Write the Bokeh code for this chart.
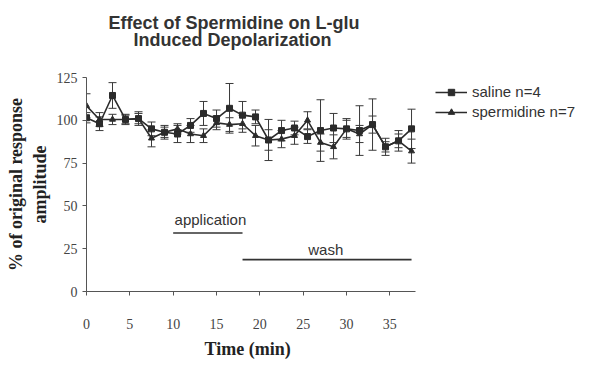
from bokeh.plotting import figure
from bokeh.models import (Range1d, ColumnDataSource, Whisker, TeeHead, Label,
                          Legend, LegendItem, FixedTicker, Title)
from bokeh.embed import file_html
from bokeh.resources import INLINE

# ---- data ----
time_min = [0, 1.5, 3, 4.5, 6, 7.5, 9, 10.5, 12, 13.5, 15, 16.5, 18,
            19.5, 21, 22.5, 24, 25.5, 27, 28.5, 30, 31.5, 33, 34.5, 36, 37.5]
saline = [101.5, 98, 114.5, 100.5, 101, 95, 93, 92, 97, 104, 101, 107, 103,
          102, 88.5, 94, 95.5, 90.5, 94, 95.5, 95, 94, 97.5, 84.5, 88, 95]
saline_err = [3, 4, 7.5, 2.5, 3, 4, 3, 5, 4, 7, 5, 14.5, 8,
              4, 12, 6, 4, 4, 18, 8.5, 5, 14.5, 15, 3, 6, 11.5]
spermidine = [108.5, 100.5, 100.5, 100.5, 101, 89.5, 93, 95, 92, 91, 98.5, 97.5, 98,
              91, 88.5, 89, 91, 100, 87, 84.5, 95, 92, 97.5, 84.5, 88, 82]
spermidine_err = [7, 4, 3, 3, 4, 5, 4, 3, 5, 4, 4, 4, 5,
                  6, 6, 5, 5, 5, 5, 7, 6, 5, 5, 5, 4, 7]
series_names = ["saline n=4", "spermidine n=7"]
x_ticks = [0, 5, 10, 15, 20, 25, 30, 35]
y_ticks = [0, 25, 50, 75, 100, 125]
title_lines = ["Effect of Spermidine on L-glu", "Induced Depolarization"]
x_title = "Time (min)"
y_title = "% of original response\namplitude"
phase_names = ["application", "wash"]
phase_start = [10, 18]
phase_end = [18, 37.5]

INK = "#2b2b2b"

# frame reaches the right edge so the legend can sit inside it;
# the x axis line is bounded to the data extent.
p = figure(width=600, height=366, output_backend="svg", toolbar_location=None,
           x_range=Range1d(0, 59.3), y_range=Range1d(0, 125),
           min_border_left=86, min_border_right=0, min_border_top=77,
           min_border_bottom=75)
p.outline_line_color = None
p.xgrid.visible = False
p.ygrid.visible = False
p.background_fill_color = "white"
p.title.text = ""

for ax in (p.xaxis[0], p.yaxis[0]):
    ax.axis_line_color = "#555555"
    ax.major_tick_line_color = "#555555"
    ax.minor_tick_line_color = None
    ax.major_tick_in = 0
    ax.major_tick_out = 4
    ax.major_label_text_font = "Liberation Serif"
    ax.major_label_text_font_size = "14px"
    ax.major_label_text_color = "#444444"
    ax.axis_label_text_font = "Liberation Serif"
    ax.axis_label_text_font_style = "bold"
    ax.axis_label_text_font_size = "18px"
    ax.axis_label_text_color = "#222222"

p.xaxis.ticker = FixedTicker(ticks=x_ticks)
p.yaxis.ticker = FixedTicker(ticks=y_ticks)
p.xaxis.bounds = (0, 38)
p.xaxis.major_label_standoff = 23
p.yaxis.major_label_standoff = 5
p.yaxis.axis_label_standoff = 4
p.yaxis.axis_label = y_title

# x title below the axis, centred under the data area
p.add_layout(Title(text=x_title, align="left", offset=118, standoff=10,
                   vertical_align="bottom", text_font="Liberation Serif",
                   text_font_style="bold", text_font_size="18px",
                   text_color="#222222"), "below")

# error bars
def whisker_for(vals, errs):
    src = ColumnDataSource(dict(t=time_min,
                                lo=[v - e for v, e in zip(vals, errs)],
                                hi=[v + e for v, e in zip(vals, errs)]))
    return Whisker(base="t", lower="lo", upper="hi", source=src,
                   line_color="#3a3a3a", line_width=1,
                   upper_head=TeeHead(size=8, line_color="#3a3a3a", line_width=1),
                   lower_head=TeeHead(size=8, line_color="#3a3a3a", line_width=1))

p.add_layout(whisker_for(saline, saline_err))
p.add_layout(whisker_for(spermidine, spermidine_err))

l1 = p.line(time_min, saline, line_color=INK, line_width=1.6)
m1 = p.scatter(time_min, saline, marker="square", size=6,
               fill_color=INK, line_color=INK)
l2 = p.line(time_min, spermidine, line_color=INK, line_width=1.6)
m2 = p.scatter(time_min, spermidine, marker="triangle", size=6,
               fill_color=INK, line_color=INK)

legend = Legend(items=[LegendItem(label=series_names[0], renderers=[l1, m1]),
                       LegendItem(label=series_names[1], renderers=[l2, m2])],
                location=(349, 171), padding=0, margin=0, spacing=3,
                glyph_width=32, glyph_height=16, label_height=16,
                label_standoff=5, border_line_color=None,
                background_fill_alpha=0,
                label_text_font="Liberation Sans", label_text_font_size="15px",
                label_text_color="#333333")
p.add_layout(legend)

# phase bars
phase_levels = [34.2, 18.6]
p.segment(x0=phase_start, y0=phase_levels, x1=phase_end, y1=phase_levels,
          line_color="#333333", line_width=1.6)
p.add_layout(Label(x=14.3, y=37, text=phase_names[0],
                   text_align="center", text_baseline="bottom",
                   text_font="Liberation Sans", text_font_size="15px",
                   text_color="#333333"))
p.add_layout(Label(x=27.6, y=19.5, text=phase_names[1],
                   text_align="center", text_baseline="bottom",
                   text_font="Liberation Sans", text_font_size="15px",
                   text_color="#333333"))

# title: spacer (nearest the frame), then line 2, then line 1 on top
title_style = dict(align="left", vertical_align="bottom",
                   text_font="Liberation Sans", text_font_style="bold",
                   text_font_size="18px", text_color="#333333")
p.add_layout(Title(text=" ", text_font_size="2px", standoff=24), "above")
p.add_layout(Title(text=title_lines[1], offset=47, standoff=0, **title_style), "above")
p.add_layout(Title(text=title_lines[0], offset=22, standoff=-10, **title_style), "above")

open("out.html", "w").write(file_html(p, INLINE))
